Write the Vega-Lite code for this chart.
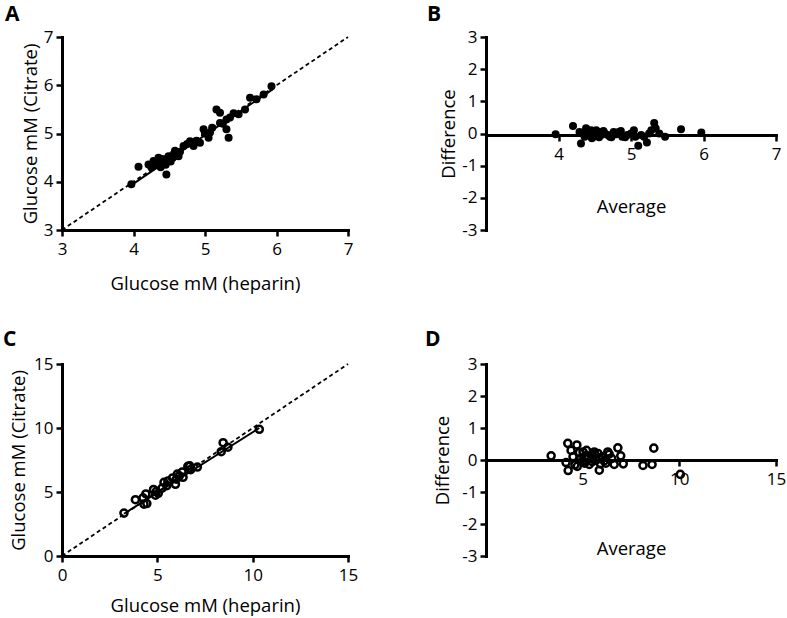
{
  "$schema": "https://vega.github.io/schema/vega-lite/v6.json",
  "padding": {"left": 3, "top": 4, "right": 5, "bottom": 5},
  "background": "white",
  "columns": 2,
  "spacing": {"row": 134, "column": 138},
  "bounds": "flush",
  "datasets": {
    "identityA": [{"heparin": 3, "citrate": 3}, {"heparin": 7, "citrate": 7}],
    "fitA": [{"heparin": 3.97, "citrate": 3.93}, {"heparin": 5.95, "citrate": 5.92}],
    "pointsA": [
      {"heparin": 3.97, "citrate": 3.95}, {"heparin": 4.07, "citrate": 4.31}, {"heparin": 4.21, "citrate": 4.36},
      {"heparin": 4.25, "citrate": 4.30}, {"heparin": 4.28, "citrate": 4.43}, {"heparin": 4.30, "citrate": 4.38},
      {"heparin": 4.33, "citrate": 4.42}, {"heparin": 4.35, "citrate": 4.50}, {"heparin": 4.37, "citrate": 4.33},
      {"heparin": 4.38, "citrate": 4.30}, {"heparin": 4.40, "citrate": 4.47}, {"heparin": 4.42, "citrate": 4.40},
      {"heparin": 4.44, "citrate": 4.43}, {"heparin": 4.45, "citrate": 4.35}, {"heparin": 4.46, "citrate": 4.15},
      {"heparin": 4.47, "citrate": 4.48}, {"heparin": 4.49, "citrate": 4.53}, {"heparin": 4.50, "citrate": 4.45},
      {"heparin": 4.52, "citrate": 4.42}, {"heparin": 4.55, "citrate": 4.50}, {"heparin": 4.56, "citrate": 4.57},
      {"heparin": 4.58, "citrate": 4.64}, {"heparin": 4.60, "citrate": 4.55}, {"heparin": 4.63, "citrate": 4.53},
      {"heparin": 4.65, "citrate": 4.62}, {"heparin": 4.70, "citrate": 4.74}, {"heparin": 4.75, "citrate": 4.78},
      {"heparin": 4.79, "citrate": 4.84}, {"heparin": 4.82, "citrate": 4.80}, {"heparin": 4.84, "citrate": 4.74},
      {"heparin": 4.88, "citrate": 4.85}, {"heparin": 4.93, "citrate": 4.81}, {"heparin": 4.98, "citrate": 5.09},
      {"heparin": 5.00, "citrate": 5.00}, {"heparin": 5.05, "citrate": 4.91}, {"heparin": 5.07, "citrate": 5.02},
      {"heparin": 5.10, "citrate": 5.12}, {"heparin": 5.16, "citrate": 5.50}, {"heparin": 5.21, "citrate": 5.43},
      {"heparin": 5.21, "citrate": 5.22}, {"heparin": 5.25, "citrate": 5.20}, {"heparin": 5.30, "citrate": 5.29},
      {"heparin": 5.30, "citrate": 5.09}, {"heparin": 5.33, "citrate": 4.91}, {"heparin": 5.35, "citrate": 5.33},
      {"heparin": 5.40, "citrate": 5.42}, {"heparin": 5.47, "citrate": 5.40}, {"heparin": 5.56, "citrate": 5.50},
      {"heparin": 5.63, "citrate": 5.74}, {"heparin": 5.72, "citrate": 5.71}, {"heparin": 5.82, "citrate": 5.81},
      {"heparin": 5.93, "citrate": 5.98}
    ],
    "pointsB": [
      {"average": 3.96, "difference": -0.02}, {"average": 4.20, "difference": 0.23}, {"average": 4.29, "difference": 0.05},
      {"average": 4.31, "difference": -0.31}, {"average": 4.33, "difference": 0.0}, {"average": 4.36, "difference": -0.10},
      {"average": 4.38, "difference": 0.16}, {"average": 4.40, "difference": -0.05}, {"average": 4.42, "difference": 0.08},
      {"average": 4.45, "difference": 0.10}, {"average": 4.46, "difference": -0.15}, {"average": 4.48, "difference": -0.10},
      {"average": 4.50, "difference": 0.0}, {"average": 4.52, "difference": 0.10}, {"average": 4.55, "difference": 0.05},
      {"average": 4.56, "difference": -0.12}, {"average": 4.59, "difference": -0.05}, {"average": 4.62, "difference": 0.08},
      {"average": 4.64, "difference": 0.0}, {"average": 4.68, "difference": -0.05}, {"average": 4.71, "difference": -0.10},
      {"average": 4.73, "difference": -0.12}, {"average": 4.76, "difference": 0.05}, {"average": 4.80, "difference": -0.02},
      {"average": 4.83, "difference": 0.05}, {"average": 4.86, "difference": 0.08}, {"average": 4.88, "difference": -0.10},
      {"average": 4.92, "difference": -0.12}, {"average": 4.95, "difference": -0.05}, {"average": 5.00, "difference": 0.0},
      {"average": 5.04, "difference": 0.10}, {"average": 5.06, "difference": -0.10}, {"average": 5.10, "difference": -0.38},
      {"average": 5.14, "difference": -0.05}, {"average": 5.18, "difference": -0.10}, {"average": 5.22, "difference": -0.28},
      {"average": 5.25, "difference": 0.0}, {"average": 5.28, "difference": 0.10}, {"average": 5.32, "difference": 0.33},
      {"average": 5.34, "difference": 0.16}, {"average": 5.39, "difference": 0.0}, {"average": 5.47, "difference": -0.10},
      {"average": 5.69, "difference": 0.13}, {"average": 5.97, "difference": 0.03}
    ],
    "identityC": [{"heparin": 0, "citrate": 0}, {"heparin": 15, "citrate": 15}],
    "fitC": [{"heparin": 3.25, "citrate": 3.3}, {"heparin": 10.35, "citrate": 10.0}],
    "pointsC": [
      {"heparin": 3.25, "citrate": 3.35}, {"heparin": 3.85, "citrate": 4.40}, {"heparin": 4.30, "citrate": 4.05},
      {"heparin": 4.45, "citrate": 4.10}, {"heparin": 4.40, "citrate": 4.85}, {"heparin": 4.25, "citrate": 4.55},
      {"heparin": 4.80, "citrate": 5.20}, {"heparin": 4.90, "citrate": 4.75}, {"heparin": 5.05, "citrate": 4.90},
      {"heparin": 4.95, "citrate": 5.05}, {"heparin": 5.25, "citrate": 5.30}, {"heparin": 5.35, "citrate": 5.75},
      {"heparin": 5.50, "citrate": 5.50}, {"heparin": 5.55, "citrate": 5.85}, {"heparin": 5.80, "citrate": 6.10},
      {"heparin": 5.95, "citrate": 5.60}, {"heparin": 6.00, "citrate": 6.00}, {"heparin": 6.05, "citrate": 6.40},
      {"heparin": 6.15, "citrate": 6.25}, {"heparin": 6.30, "citrate": 6.55}, {"heparin": 6.35, "citrate": 6.15},
      {"heparin": 6.60, "citrate": 7.00}, {"heparin": 6.70, "citrate": 7.05}, {"heparin": 6.75, "citrate": 6.75},
      {"heparin": 7.10, "citrate": 6.95}, {"heparin": 8.35, "citrate": 8.15}, {"heparin": 8.45, "citrate": 8.85},
      {"heparin": 8.70, "citrate": 8.50}, {"heparin": 10.35, "citrate": 9.90}
    ],
    "pointsD": [
      {"average": 3.37, "difference": 0.13}, {"average": 4.23, "difference": 0.52}, {"average": 4.14, "difference": -0.08},
      {"average": 4.25, "difference": -0.33}, {"average": 4.40, "difference": 0.30}, {"average": 4.50, "difference": 0.10},
      {"average": 4.60, "difference": -0.15}, {"average": 4.70, "difference": 0.47}, {"average": 4.72, "difference": -0.20},
      {"average": 4.83, "difference": 0.23}, {"average": 4.90, "difference": 0.05}, {"average": 5.00, "difference": -0.03},
      {"average": 5.02, "difference": 0.25}, {"average": 5.10, "difference": -0.10}, {"average": 5.17, "difference": 0.13},
      {"average": 5.20, "difference": 0.30}, {"average": 5.30, "difference": 0.05}, {"average": 5.34, "difference": -0.14},
      {"average": 5.45, "difference": 0.15}, {"average": 5.50, "difference": -0.05}, {"average": 5.60, "difference": 0.25},
      {"average": 5.62, "difference": 0.18}, {"average": 5.70, "difference": 0.0}, {"average": 5.80, "difference": 0.20},
      {"average": 5.86, "difference": -0.32}, {"average": 5.88, "difference": 0.07}, {"average": 5.92, "difference": -0.12},
      {"average": 6.00, "difference": 0.10}, {"average": 6.11, "difference": -0.03}, {"average": 6.20, "difference": -0.10},
      {"average": 6.30, "difference": 0.25}, {"average": 6.37, "difference": 0.18}, {"average": 6.50, "difference": 0.05},
      {"average": 6.63, "difference": -0.14}, {"average": 6.82, "difference": 0.38}, {"average": 6.97, "difference": 0.13},
      {"average": 7.10, "difference": -0.12}, {"average": 8.12, "difference": -0.17}, {"average": 8.59, "difference": -0.14},
      {"average": 8.68, "difference": 0.37}, {"average": 10.05, "difference": -0.45}
    ]
  },
  "concat": [
    {
      "width": 286,
      "height": 193,
      "title": {"text": "A", "dx": -57, "offset": 3},
      "layer": [
        {
          "data": {"name": "identityA"},
          "mark": {"type": "line", "color": "black", "strokeWidth": 1.8, "strokeDash": [4, 3]},
          "encoding": {
            "x": {"field": "heparin", "type": "quantitative", "scale": {"domain": [3, 7], "nice": false},
              "axis": {"title": "Glucose mM (heparin)", "values": [3, 4, 5, 6, 7], "format": "d", "labelPadding": 5.5, "titlePadding": 16.5}},
            "y": {"field": "citrate", "type": "quantitative", "scale": {"domain": [3, 7], "nice": false},
              "axis": {"title": "Glucose mM (Citrate)", "values": [3, 4, 5, 6, 7], "format": "d", "titlePadding": 3}}
          }
        },
        {
          "data": {"name": "fitA"},
          "mark": {"type": "line", "color": "black", "strokeWidth": 2},
          "encoding": {
            "x": {"field": "heparin", "type": "quantitative"},
            "y": {"field": "citrate", "type": "quantitative"}
          }
        },
        {
          "data": {"name": "pointsA"},
          "mark": {"type": "circle", "color": "black", "size": 64, "opacity": 1},
          "encoding": {
            "x": {"field": "heparin", "type": "quantitative"},
            "y": {"field": "citrate", "type": "quantitative"}
          }
        }
      ]
    },
    {
      "width": 290,
      "height": 193,
      "title": {"text": "B", "dx": -59, "offset": 3},
      "data": {"name": "pointsB"},
      "mark": {"type": "circle", "color": "black", "size": 64, "opacity": 1},
      "encoding": {
        "x": {"field": "average", "type": "quantitative", "scale": {"domain": [3, 7], "nice": false},
          "axis": {"title": "Average", "values": [4, 5, 6, 7], "format": "d", "offset": -95, "labelPadding": 5.5, "titlePadding": 34.5}},
        "y": {"field": "difference", "type": "quantitative", "scale": {"domain": [-3, 3], "nice": false},
          "axis": {"title": "Difference", "values": [-3, -2, -1, 0, 1, 2, 3], "labelExpr": "datum.value < 0 ? '-' + abs(datum.value) : '' + datum.value", "titlePadding": 3}}
      }
    },
    {
      "width": 286,
      "height": 192,
      "title": {"text": "C", "dx": -59, "offset": 5},
      "layer": [
        {
          "data": {"name": "identityC"},
          "mark": {"type": "line", "color": "black", "strokeWidth": 1.8, "strokeDash": [4, 3]},
          "encoding": {
            "x": {"field": "heparin", "type": "quantitative", "scale": {"domain": [0, 15], "nice": false},
              "axis": {"title": "Glucose mM (heparin)", "values": [0, 5, 10, 15], "format": "d", "labelPadding": 5.5, "titlePadding": 12.5}},
            "y": {"field": "citrate", "type": "quantitative", "scale": {"domain": [0, 15], "nice": false},
              "axis": {"title": "Glucose mM (Citrate)", "values": [0, 5, 10, 15], "format": "d", "titlePadding": 5}}
          }
        },
        {
          "data": {"name": "fitC"},
          "mark": {"type": "line", "color": "black", "strokeWidth": 2},
          "encoding": {
            "x": {"field": "heparin", "type": "quantitative"},
            "y": {"field": "citrate", "type": "quantitative"}
          }
        },
        {
          "data": {"name": "pointsC"},
          "mark": {"type": "point", "shape": "circle", "color": "black", "filled": false, "size": 50, "strokeWidth": 2.5, "opacity": 1},
          "encoding": {
            "x": {"field": "heparin", "type": "quantitative"},
            "y": {"field": "citrate", "type": "quantitative"}
          }
        }
      ]
    },
    {
      "width": 290,
      "height": 192,
      "title": {"text": "D", "dx": -61, "offset": 5},
      "data": {"name": "pointsD"},
      "mark": {"type": "point", "shape": "circle", "color": "black", "filled": false, "size": 50, "strokeWidth": 2.5, "opacity": 1},
      "encoding": {
        "x": {"field": "average", "type": "quantitative", "scale": {"domain": [0, 15], "nice": false},
          "axis": {"title": "Average", "values": [5, 10, 15], "format": "d", "offset": -96, "labelPadding": 5.5, "titlePadding": 51.5}},
        "y": {"field": "difference", "type": "quantitative", "scale": {"domain": [-3, 3], "nice": false},
          "axis": {"title": "Difference", "values": [-3, -2, -1, 0, 1, 2, 3], "labelExpr": "datum.value < 0 ? '-' + abs(datum.value) : '' + datum.value", "titlePadding": 9}}
      }
    }
  ],
  "config": {
    "font": "Open Sans",
    "view": {"stroke": null},
    "axis": {
      "grid": false,
      "domainColor": "black",
      "domainWidth": 3,
      "domainCap": "square",
      "tickColor": "black",
      "tickWidth": 2.5,
      "tickSize": 6,
      "labelColor": "black",
      "labelFont": "Open Sans",
      "labelFontSize": 17,
      "labelPadding": 3,
      "labelFlush": false,
      "labelOverlap": false,
      "titleColor": "black",
      "titleFont": "Open Sans",
      "titleFontSize": 18.5,
      "titleFontWeight": "normal"
    },
    "title": {
      "font": "Open Sans",
      "fontSize": 21,
      "fontWeight": "bold",
      "color": "black",
      "anchor": "start",
      "frame": "group"
    }
  }
}
